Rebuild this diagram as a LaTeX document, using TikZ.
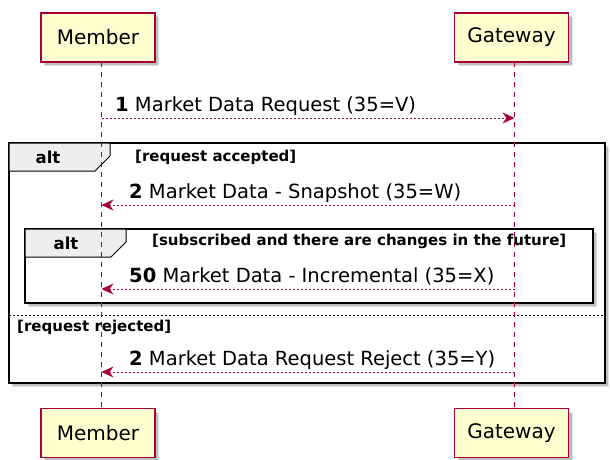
\documentclass[tikz,border=0pt]{standalone}
\usepackage{fontspec}
\setmainfont{DejaVu Sans}
\usetikzlibrary{arrows.meta,shadows}
\definecolor{umlred}{HTML}{A80036}
\definecolor{umlfill}{HTML}{FEFECE}
\definecolor{tabfill}{HTML}{EEEEEE}
\tikzset{
	softshadow/.style={drop shadow={shadow xshift=4pt,shadow yshift=-4pt,opacity=0.12,fill=black},
		drop shadow={shadow xshift=3pt,shadow yshift=-3pt,opacity=0.15,fill=black}},
	part/.style={draw=umlred,fill=umlfill,line width=1.4pt,minimum width=114pt,minimum height=49pt,
		inner sep=0pt,font=\fontsize{20}{23}\selectfont,softshadow},
	lifeline/.style={umlred,line width=1pt,dash pattern=on 5pt off 5pt},
	msg/.style={umlred,line width=1pt,dash pattern=on 2pt off 2pt,-{Stealth[length=12pt,width=11pt,inset=4pt]}},
	msgtext/.style={anchor=base west,inner sep=0pt,font=\fontsize{19.5}{22}\selectfont},
	frame/.style={draw=black,fill=white,line width=2pt,softshadow},
	tab/.style={draw=black,fill=tabfill,line width=1pt},
	alttext/.style={font=\bfseries\fontsize{16.5}{19}\selectfont,inner sep=0pt},
	guard/.style={anchor=west,inner sep=0pt,font=\bfseries\fontsize{15}{18}\selectfont}
}
\begin{document}
\begin{tikzpicture}[x=1pt,y=-1pt]
	\useasboundingbox (0,0) rectangle (610,459);
	% participants
	\node[part] (memtop) at (98,37.5) {Member};
	\node[part] (gwtop) at (511.5,37.5) {Gateway};
	\node[part] (membot) at (98,433) {Member};
	\node[part] (gwbot) at (511.5,433) {Gateway};
	% frames
	\draw[frame] (9,143) rectangle (605,383);
	\draw[tab] (9,143) -- (110,143) -- (110,156) -- (95,171) -- (9,171) -- cycle;
	\draw[frame] (25,229) rectangle (593,303);
	\draw[tab] (25,229) -- (126,229) -- (126,242) -- (111,257) -- (25,257) -- cycle;
	\draw[black,line width=1pt,dash pattern=on 2pt off 2pt] (9,315) -- (605,315);
	% lifelines
	\coordinate (mema) at (101.5,62);
	\coordinate (memb) at (101.5,409);
	\coordinate (gwa) at (514.5,62);
	\coordinate (gwb) at (514.5,409);
	\draw[lifeline] (mema) -- (memb);
	\draw[lifeline] (gwa) -- (gwb);
	% messages
	\coordinate (m1) at (101.5,118);
	\coordinate (g1) at (514.5,118);
	\coordinate (m2) at (101.5,205);
	\coordinate (g2) at (514.5,205);
	\coordinate (m3) at (101.5,289);
	\coordinate (g3) at (514.5,289);
	\coordinate (m4) at (101.5,372);
	\coordinate (g4) at (514.5,372);
	\draw[msg] (m1) -- (g1);
	\draw[msg] (g2) -- (m2);
	\draw[msg] (g3) -- (m3);
	\draw[msg] (g4) -- (m4);
	\node[msgtext] (t1) at (115,111) {\textbf{1} Market Data Request (35=V)};
	\node[msgtext] (t2) at (129,198) {\textbf{2} Market Data - Snapshot (35=W)};
	\node[msgtext] (t3) at (129,282) {\textbf{50} Market Data - Incremental (35=X)};
	\node[msgtext] (t4) at (129,365) {\textbf{2} Market Data Request Reject (35=Y)};
	% frame labels
	\node[alttext] (alt1) at (48,157) {alt};
	\node[alttext] (alt2) at (66,243) {alt};
	\node[guard] (g1txt) at (135,157) {[request accepted]};
	\node[guard] (g2txt) at (152,241) {[subscribed and there are changes in the future]};
	\node[guard] (g3txt) at (17,327) {[request rejected]};
\end{tikzpicture}
\end{document}
